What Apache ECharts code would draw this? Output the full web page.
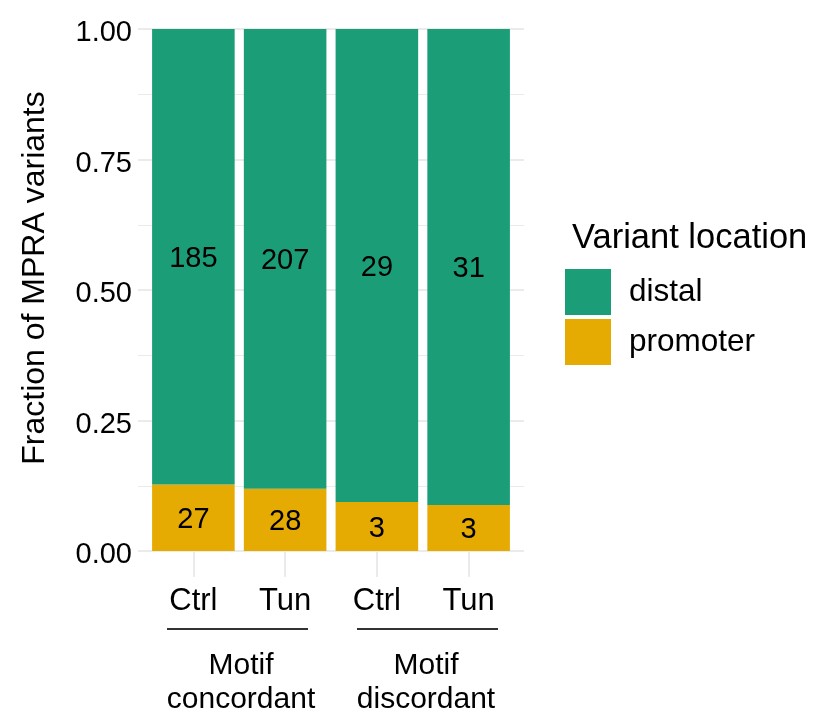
<!DOCTYPE html>
<html>
<head>
<meta charset="utf-8">
<script src="https://cdn.jsdelivr.net/npm/echarts@6/dist/echarts.min.js"></script>
<style>
html,body{margin:0;padding:0;background:#fff;}
#chart{width:817px;height:711px;}
</style>
</head>
<body>
<div id="chart"></div>
<script>
const categories = ['Ctrl', 'Tun', 'Ctrl', 'Tun'];
const groupLabels = ['Motif\nconcordant', 'Motif\ndiscordant'];
const distalCounts = [185, 207, 29, 31];
const promoterCounts = [27, 28, 3, 3];
const seriesNames = ['distal', 'promoter'];
const legendTitle = 'Variant location';
const yTitle = 'Fraction of MPRA variants';

const totals = distalCounts.map((d, i) => d + promoterCounts[i]);
const distalFrac = distalCounts.map((d, i) => ({ value: d / totals[i], count: d }));
const promoterFrac = promoterCounts.map((p, i) => ({ value: p / totals[i], count: p }));

const FONT = '"Liberation Sans", Arial, sans-serif';
const GREEN = '#1B9E77';
const ORANGE = '#E6AB02';
const GRID = '#EBEBEB';

const chart = echarts.init(document.getElementById('chart'));
const labelStyle = {
  show: true, position: 'inside', offset: [0, 2.5], color: '#000', fontSize: 29, fontFamily: FONT,
  formatter: p => p.data.count
};
chart.setOption({
  backgroundColor: '#fff',
  animation: false,
  textStyle: { fontFamily: FONT },
  grid: [
    { left: 138, top: 29, width: 386, height: 522, containLabel: false },
    { left: 147.5, top: 29, width: 367, height: 522, containLabel: false }
  ],
  xAxis: [
    { gridIndex: 0, type: 'value', min: 0, max: 1, show: false },
    {
      gridIndex: 1, type: 'category', data: categories,
      axisLine: { show: false },
      axisTick: { show: true, alignWithLabel: true, length: 26, lineStyle: { color: GRID, width: 2 } },
      axisLabel: { color: '#000', fontSize: 31, fontFamily: FONT, margin: 35 },
      splitLine: { show: false }
    }
  ],
  yAxis: [
    {
      gridIndex: 0, type: 'value', min: 0, max: 1, interval: 0.25,
      axisLine: { show: false }, axisTick: { show: false },
      axisLabel: {
        color: '#000', fontSize: 29, fontFamily: FONT, margin: 6,
        formatter: v => '{t|' + v.toFixed(2) + '}',
        rich: { t: { color: '#000', fontSize: 29, fontFamily: FONT, padding: [8, 0, 0, 0] } }
      },
      splitLine: { show: true, lineStyle: { color: GRID, width: 2 } },
      minorTick: { show: false, splitNumber: 2 },
      minorSplitLine: { show: true, lineStyle: { color: GRID, width: 1 } }
    },
    { gridIndex: 1, type: 'value', min: 0, max: 1, show: false }
  ],
  legend: {
    data: seriesNames,
    orient: 'vertical',
    left: 565, top: 269,
    itemWidth: 46, itemHeight: 46, itemGap: 4,
    icon: 'rect',
    padding: 0,
    textStyle: { color: '#000', fontSize: 31.5, fontFamily: FONT, padding: [4, 0, 0, 13] }
  },
  graphic: [
    { type: 'text', x: 35, y: 278, rotation: Math.PI / 2,
      style: { text: yTitle, font: '32px ' + FONT, fill: '#000', textAlign: 'center', textVerticalAlign: 'middle' } },
    { type: 'text', x: 572, y: 238,
      style: { text: legendTitle, font: '34.5px ' + FONT, fill: '#000', textAlign: 'left', textVerticalAlign: 'middle' } },
    { type: 'line', shape: { x1: 167, y1: 629, x2: 308, y2: 629 }, style: { stroke: '#333', lineWidth: 2 } },
    { type: 'line', shape: { x1: 357, y1: 629, x2: 498, y2: 629 }, style: { stroke: '#333', lineWidth: 2 } },
    { type: 'text', x: 241, y: 683,
      style: { text: groupLabels[0], font: '30px ' + FONT, lineHeight: 34, fill: '#000', textAlign: 'center', textVerticalAlign: 'middle' } },
    { type: 'text', x: 426, y: 683,
      style: { text: groupLabels[1], font: '30px ' + FONT, lineHeight: 34, fill: '#000', textAlign: 'center', textVerticalAlign: 'middle' } }
  ],
  series: [
    { name: 'promoter', type: 'bar', xAxisIndex: 1, yAxisIndex: 1, stack: 'all', barWidth: '90%',
      itemStyle: { color: ORANGE }, label: labelStyle, data: promoterFrac },
    { name: 'distal', type: 'bar', xAxisIndex: 1, yAxisIndex: 1, stack: 'all', barWidth: '90%',
      itemStyle: { color: GREEN }, label: labelStyle, data: distalFrac },
    { type: 'line', xAxisIndex: 0, yAxisIndex: 0, data: [], silent: true }
  ]
});
</script>
</body>
</html>
